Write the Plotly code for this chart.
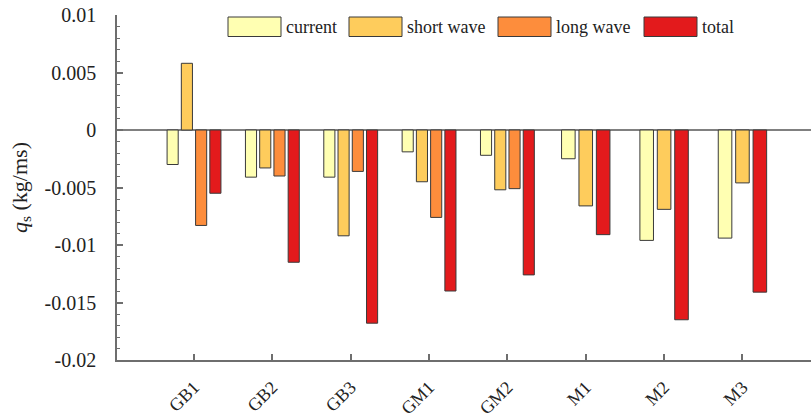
import plotly.graph_objects as go

categories = ["GB1", "GB2", "GB3", "GM1", "GM2", "M1", "M2", "M3"]
current = [-0.0030, -0.0041, -0.0041, -0.0019, -0.0022, -0.0025, -0.0096, -0.0094]
short_wave = [0.0058, -0.0033, -0.0092, -0.0045, -0.0052, -0.0066, -0.0069, -0.0046]
long_wave = [-0.0083, -0.0040, -0.0036, -0.0076, -0.0051, None, None, None]
total = [-0.0055, -0.0115, -0.0168, -0.0140, -0.0126, -0.0091, -0.0165, -0.0141]

series_names = ["current", "short wave", "long wave", "total"]
series_colors = ["#FFFFB2", "#FECC5C", "#FD8D3C", "#E31A1C"]

y_tick_vals = [0.01, 0.005, 0, -0.005, -0.01, -0.015, -0.02]
y_tick_text = ["0.01", "0.005", "0", "-0.005", "-0.01", "-0.015", "-0.02"]

FONT = "Liberation Serif"
W, H = 811, 418
ML, MR, MT, MB = 117, 0, 15, 58
PW, PH = W - ML - MR, H - MT - MB

all_series = [current, short_wave, long_wave, total]
n_present = [sum(s[i] is not None for s in all_series) for i in range(len(categories))]

fig = go.Figure()
for k, s in enumerate(all_series):
    xs, ys, offs, wids = [], [], [], []
    for i, v in enumerate(s):
        if v is None:
            continue
        n = n_present[i]
        slot = 1.0 / (n + 1.5)
        rank = sum(all_series[j][i] is not None for j in range(k))
        center = (rank - (n - 1) / 2) * slot
        w = 0.78 * slot
        xs.append(i)
        ys.append(v)
        offs.append(center - w / 2)
        wids.append(w)
    fig.add_bar(x=xs, y=ys, offset=offs, width=wids, name=series_names[k],
                marker=dict(color=series_colors[k], line=dict(color="#3a3a3a", width=1)),
                showlegend=False)

# custom legend (wide swatches), positions in page pixels
leg_box_x = [228, 349, 498, 644]
box_w = 53
box_top, box_bot = 17, 36.5
def px2x(px):
    return (px - ML) / PW
def py2y(py):
    return (H - MB - py) / PH

shapes = []
annotations = []
for k in range(4):
    shapes.append(dict(type="rect", xref="paper", yref="paper",
                       x0=px2x(leg_box_x[k]), x1=px2x(leg_box_x[k] + box_w),
                       y0=py2y(box_bot), y1=py2y(box_top),
                       fillcolor=series_colors[k], line=dict(color="#3a3a3a", width=1)))
    annotations.append(dict(xref="paper", yref="paper",
                            x=px2x(leg_box_x[k] + box_w + 3), y=py2y((box_top + box_bot) / 2),
                            text=series_names[k], showarrow=False, xanchor="left", yanchor="middle",
                            font=dict(family=FONT, size=18, color="#222")))

fig.update_layout(
    width=W, height=H,
    margin=dict(l=ML, r=MR, t=MT, b=MB, autoexpand=False),
    plot_bgcolor="white", paper_bgcolor="white",
    barmode="overlay",
    shapes=shapes, annotations=annotations,
    font=dict(family=FONT, size=18, color="#222"),
)
fig.update_xaxes(
    range=[-0.983, 7.875], tickvals=list(range(len(categories))), ticktext=categories,
    tickangle=-45, ticks="inside", ticklen=6, tickcolor="#6e6e6e", tickwidth=1.5,
    showline=True, linecolor="#6e6e6e", linewidth=1.5, showgrid=False, zeroline=False,
    tickfont=dict(family=FONT, size=18, color="#222"), automargin=False,
    ticklabelstandoff=8, ticklabeloverflow="allow",
)
fig.update_yaxes(
    range=[-0.02, 0.01], tickvals=y_tick_vals, ticktext=y_tick_text,
    ticks="inside", ticklen=6, tickcolor="#6e6e6e", tickwidth=1.5,
    minor=dict(ticks="inside", ticklen=3, dtick=0.001, tickcolor="#6e6e6e", tickwidth=1, showgrid=False),
    showline=True, linecolor="#6e6e6e", linewidth=1.5, showgrid=False,
    zeroline=True, zerolinecolor="#808080", zerolinewidth=1.5,
    tickfont=dict(family=FONT, size=20, color="#222"), automargin=False,
    ticklabelstandoff=15, ticklabeloverflow="allow",
    title=dict(text="<i>q</i><sub>s</sub> (kg/ms)", font=dict(family=FONT, size=22, color="#222"), standoff=11),
)

fig.write_html("out.html", config={"displayModeBar": False},
               post_script="document.body.style.margin='0';document.body.style.overflow='hidden';")
